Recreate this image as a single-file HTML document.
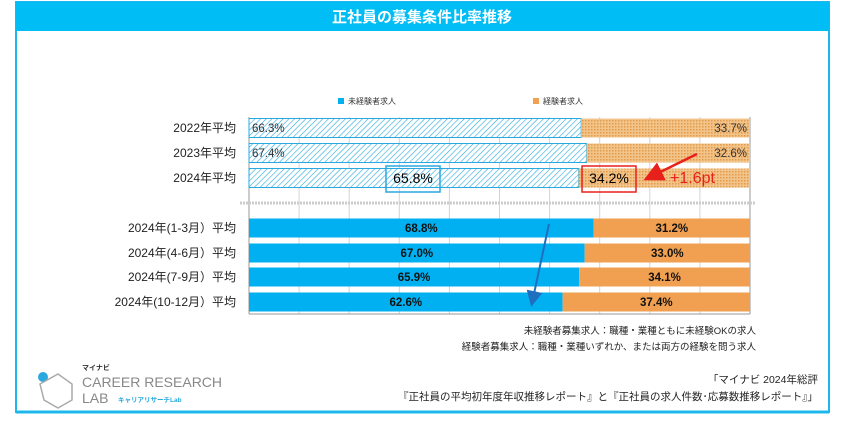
<!DOCTYPE html>
<html><head><meta charset="utf-8"><style>
body{margin:0;width:859px;height:425px;background:#fff;font-family:"Liberation Sans","Noto Sans CJK JP",sans-serif;overflow:hidden}
</style></head><body>
<svg width="859" height="425" xmlns="http://www.w3.org/2000/svg">
<defs>
<pattern id="hatch" width="4" height="4" patternUnits="userSpaceOnUse" patternTransform="rotate(45)">
<rect width="4" height="4" fill="#fff"/><line x1="0" y1="0" x2="0" y2="4" stroke="#29a9e0" stroke-width="1.2"/></pattern>
<pattern id="dots" width="3" height="3" patternUnits="userSpaceOnUse">
<rect width="3" height="3" fill="#f3c48a"/><rect width="1.5" height="1.5" fill="#e09a4a"/></pattern>
<marker id="arR" markerWidth="8" markerHeight="8" refX="6" refY="4" orient="auto"><path d="M0,0 L8,4 L0,8 Z" fill="#e8201c"/></marker>
<marker id="arB" markerWidth="8" markerHeight="8" refX="6" refY="4" orient="auto"><path d="M0,0 L8,4 L0,8 Z" fill="#1f6fc0"/></marker>
</defs>
<rect x="16" y="2" width="813" height="410" fill="#fff" stroke="#1cb8ec" stroke-width="2"/>
<line x1="16" y1="412" x2="829" y2="412" stroke="#1cb8ec" stroke-width="3"/>
<rect x="16" y="2" width="813" height="29" fill="#00bdf5"/>
<text x="422" y="22" text-anchor="middle" fill="#fff" font-size="15" font-weight="bold">正社員の募集条件比率推移</text>
<rect x="338" y="98" width="6" height="6" fill="#00b0f0"/>
<text x="348" y="104" font-size="8" fill="#333">未経験者求人</text>
<rect x="533" y="98" width="6" height="6" fill="#f0a050"/>
<text x="543" y="104" font-size="8" fill="#333">経験者求人</text>
<g id="grid"></g>
<g id="bars"></g>
<rect x="582" y="166" width="54" height="26" fill="none" stroke="#e8201c" stroke-width="1.5"/>
<rect x="386" y="166" width="54" height="26" fill="none" stroke="#29a9e0" stroke-width="1.5"/>
<line x1="697" y1="154" x2="648" y2="178" stroke="#e8201c" stroke-width="2.5" marker-end="url(#arR)"/>
<text x="670" y="183" font-size="16" fill="#e8201c">+1.6pt</text>
<line x1="549" y1="224" x2="532" y2="303" stroke="#1f6fc0" stroke-width="2" marker-end="url(#arB)"/>
<text x="756" y="334" text-anchor="end" font-size="9.5" fill="#222">未経験者募集求人：職種・業種ともに未経験OKの求人</text>
<text x="756" y="350" text-anchor="end" font-size="9.5" fill="#222">経験者募集求人：職種・業種いずれか、または両方の経験を問う求人</text>
<text x="818" y="383" text-anchor="end" font-size="10.5" fill="#222">「マイナビ 2024年総評</text>
<text x="818" y="400" text-anchor="end" font-size="10.5" fill="#222">『正社員の平均初年度年収推移レポート』と『正社員の求人件数･応募数推移レポート』」</text>
<g>
<circle cx="43" cy="377" r="5" fill="#29a9e0"/>
<path d="M40,384 L58,374 L72,384 L72,400 L58,408 L44,400 Z" fill="none" stroke="#aaa" stroke-width="1.5"/>
<text x="82" y="370" font-size="7" font-weight="bold" fill="#333">マイナビ</text>
<text x="82" y="387" font-size="14" fill="#888">CAREER RESEARCH</text>
<text x="82" y="403" font-size="14" fill="#888">LAB</text>
<text x="118" y="402" font-size="6.5" fill="#29a9e0" font-weight="bold">キャリアリサーチLab</text>
</g>
</svg>
<script>
const labels=["2022年平均","2023年平均","2024年平均","2024年(1-3月）平均","2024年(4-6月）平均","2024年(7-9月）平均","2024年(10-12月）平均"];
const inexperienced=[66.3,67.4,65.8,68.8,67.0,65.9,62.6];
const experienced=[33.7,32.6,34.2,31.2,33.0,34.1,37.4];
const yCenters=[128,153,178,228,253,277,302];
const NS="http://www.w3.org/2000/svg";
const X0=249,W=501;
function xs(v){return X0+v/100*W;}
const grid=document.getElementById('grid'),bars=document.getElementById('bars');
function mk(t,a,p){const e=document.createElementNS(NS,t);for(const k in a)e.setAttribute(k,a[k]);p.appendChild(e);return e;}
for(let i=0;i<=10;i++){const l=mk('line',{x1:xs(i*10),x2:xs(i*10),y1:117,y2:314,stroke:i==0||i==10?'#999':'#d4d4d4','stroke-width':1},grid);

}
mk('line',{x1:X0,x2:X0+W,y1:314,y2:314,stroke:'#999'},grid);
mk('line',{x1:240,x2:755,y1:203,y2:203,stroke:'#ccc','stroke-dasharray':'2,1','stroke-width':3},grid);
labels.forEach((lab,i)=>{
 const h=19,y=yCenters[i]-h/2,top=i<3;
 const b1=mk('rect',{x:xs(0),y:y,width:xs(inexperienced[i])-xs(0),height:h,fill:top?'url(#hatch)':'#00b0f0',stroke:top?'#29a9e0':'none'},bars);
 
 
 const b2=mk('rect',{x:xs(inexperienced[i]),y:y,width:xs(100)-xs(inexperienced[i]),height:h,fill:top?'url(#dots)':'#f0a050'},bars);
 
 
 const t=mk('text',{x:236,y:yCenters[i]+4,'text-anchor':'end','font-size':12,fill:'#222'},bars);t.textContent=lab;
 
 
 let a,b;
 if(i<2){a=mk('text',{x:xs(0)+3,y:yCenters[i]+4,'font-size':11.5,fill:'#333'},bars);b=mk('text',{x:xs(100)-3,y:yCenters[i]+4,'font-size':11.5,fill:'#333','text-anchor':'end'},bars);}
 else if(i==2){a=mk('text',{x:413,y:yCenters[i]+5,'font-size':14,fill:'#000','text-anchor':'middle'},bars);b=mk('text',{x:609,y:yCenters[i]+5,'font-size':14,fill:'#000','text-anchor':'middle'},bars);}
 else{a=mk('text',{x:(xs(0)+xs(inexperienced[i]))/2,y:yCenters[i]+4,'font-size':11.5,'font-weight':'bold',fill:'#111','text-anchor':'middle'},bars);b=mk('text',{x:(xs(inexperienced[i])+xs(100))/2,y:yCenters[i]+4,'font-size':11.5,'font-weight':'bold',fill:'#111','text-anchor':'middle'},bars);}
 a.textContent=inexperienced[i].toFixed(1)+'%';b.textContent=experienced[i].toFixed(1)+'%';
 
 
 
 
});
</script>
</body></html>
